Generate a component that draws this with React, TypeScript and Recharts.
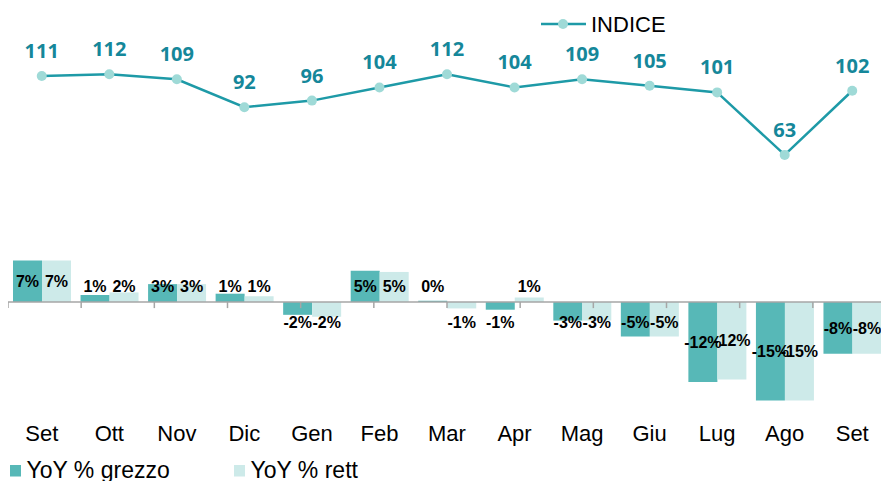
import {
  ComposedChart,
  Bar,
  Line,
  XAxis,
  YAxis,
  ReferenceLine,
  LabelList,
  Legend,
} from 'recharts'

const months = ['Set', 'Ott', 'Nov', 'Dic', 'Gen', 'Feb', 'Mar', 'Apr', 'Mag', 'Giu', 'Lug', 'Ago', 'Set']
const indice = [111, 112, 109, 92, 96, 104, 112, 104, 109, 105, 101, 63, 102]
const yoyGrezzo = [6.5, 1.1, 2.8, 1.3, -2.0, 4.9, 0.2, -1.2, -2.9, -5.4, -12.5, -15.4, -8.1]
const yoyRett = [6.5, 1.5, 2.8, 0.9, -2.3, 4.7, -1.0, 0.7, -2.9, -5.4, -12.1, -15.4, -8.1]

const data = months.map((month, i) => ({
  month,
  indice: indice[i],
  grezzo: yoyGrezzo[i],
  rett: yoyRett[i],
}))

const FONT = '"Liberation Sans", Arial, sans-serif'
const LINE = '#1E9AA7'
const DOT = '#9FDAD7'
const LINE_LABEL = '#15879A'
const DARK = '#57B8B7'
const LIGHT = '#CDEAE9'
const AXIS = '#A6A6A6'

const W = 878
const H = 473

// label sits in the middle of the bar, but never too close to the zero line
function BarValue(props: any) {
  const { x, y, width, height, value } = props
  const top = Math.min(y, y + height)
  const bottom = Math.max(y, y + height)
  const mid = (top + bottom) / 2
  const ty = value >= 0 ? Math.min(mid, bottom - 16) : Math.max(mid, top + 20)
  return (
    <text
      x={x + width / 2}
      y={ty}
      dy="0.35em"
      textAnchor="middle"
      fontSize={16}
      fontWeight="bold"
      fill="#000"
      fontFamily={FONT}
    >
      {`${Math.round(value)}%`}
    </text>
  )
}

function ChartLegend() {
  return (
    <svg width={873} height={H} style={{ display: 'block', overflow: 'visible' }}>
      <line x1={533} y1={16} x2={578} y2={16} stroke={LINE} strokeWidth={2.5} />
      <circle cx={555} cy={16} r={5} fill={DOT} />
      <text x={583} y={24} fontSize={22} fill="#000" fontFamily={FONT}>INDICE</text>
      <rect x={2} y={457} width={11} height={11.5} fill={DARK} />
      <text x={18.5} y={470} fontSize={23} fill="#000" fontFamily={FONT}>YoY % grezzo</text>
      <rect x={226} y={457} width={11} height={11.5} fill={LIGHT} />
      <text x={242.5} y={470} fontSize={23} fill="#000" fontFamily={FONT}>YoY % rett</text>
    </svg>
  )
}

export default function App() {
  return (
    <div style={{ position: 'absolute', top: 8, left: 8, width: 873, height: H, overflow: 'hidden' }}>
      <ComposedChart
        width={W}
        height={H}
        data={data}
        margin={{ top: 0, right: 0, left: 0, bottom: 41 }}
        barGap={0}
      >
        <XAxis
          dataKey="month"
          axisLine={false}
          tickLine={false}
          tickSize={0}
          tickMargin={15}
          height={30}
          interval={0}
          tick={{ fontSize: 22, fill: '#000', fontFamily: FONT }}
        />
        <XAxis xAxisId="idx" type="number" domain={[0, months.length]} hide allowDataOverflow />
        <YAxis yAxisId="line" hide domain={[-92.1, 152.3]} allowDataOverflow />
        <YAxis yAxisId="bar" hide domain={[-16.87, 45.94]} allowDataOverflow />
        <Legend
          layout="horizontal"
          verticalAlign="middle"
          align="center"
          wrapperStyle={{ top: 0, left: 0, width: 873, height: H }}
          content={() => <ChartLegend />}
        />
        <Bar yAxisId="bar" dataKey="grezzo" name="YoY % grezzo" fill={DARK} barSize={29} isAnimationActive={false}>
          <LabelList dataKey="grezzo" content={BarValue} />
        </Bar>
        <Bar yAxisId="bar" dataKey="rett" name="YoY % rett" fill={LIGHT} barSize={29} isAnimationActive={false}>
          <LabelList dataKey="rett" content={BarValue} />
        </Bar>
        <ReferenceLine yAxisId="bar" y={0} stroke={AXIS} strokeWidth={1.5} />
        {months.map((_, i) => (
          <ReferenceLine
            key={i}
            xAxisId="idx"
            yAxisId="bar"
            segment={[{ x: i, y: 0 }, { x: i, y: -0.95 }]}
            stroke={AXIS}
            strokeWidth={1.5}
          />
        ))}
        <Line
          yAxisId="line"
          type="linear"
          dataKey="indice"
          name="INDICE"
          stroke={LINE}
          strokeWidth={2.5}
          dot={{ r: 5, fill: DOT, stroke: 'none' }}
          activeDot={false}
          isAnimationActive={false}
        >
          <LabelList
            dataKey="indice"
            position="top"
            offset={18}
            fill={LINE_LABEL}
            fontSize={20}
            fontWeight="bold"
            fontFamily='"Open Sans", sans-serif'
          />
        </Line>
      </ComposedChart>
    </div>
  )
}
